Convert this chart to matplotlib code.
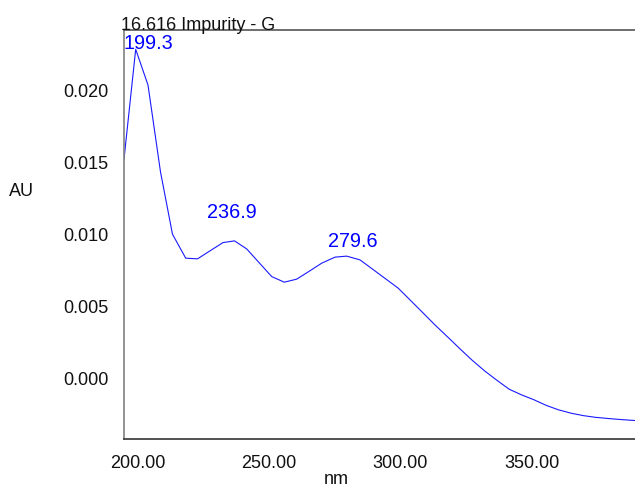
import matplotlib
matplotlib.use("Agg")
import matplotlib.pyplot as plt

# UV spectrum of the impurity peak (wavelength in nm, absorbance in AU)
wavelength = [194.85, 199.30, 203.98, 208.74, 213.30, 218.33, 222.82, 227.60,
              232.52, 236.90, 241.54, 246.30, 251.05, 255.84, 260.56, 265.25,
              270.08, 275.14, 279.60, 284.65, 289.33, 294.28, 299.22, 303.90,
              308.62, 313.30, 317.98, 322.70, 327.38, 332.06, 336.78, 341.46,
              346.14, 350.86, 355.54, 360.22, 364.94, 369.62, 374.30, 379.02,
              383.70, 388.38, 389.30]
absorbance = [0.01520, 0.02284, 0.02036, 0.01432, 0.00999, 0.00833, 0.00828, 0.00884,
              0.00941, 0.00953, 0.00897, 0.00801, 0.00705, 0.00666, 0.00687, 0.00741,
              0.00798, 0.00840, 0.00847, 0.00821, 0.00758, 0.00691, 0.00624, 0.00539,
              0.00453, 0.00367, 0.00286, 0.00203, 0.00123, 0.00050, -0.00016, -0.00078,
              -0.00117, -0.00151, -0.00190, -0.00221, -0.00244, -0.00261, -0.00273, -0.00281,
              -0.00288, -0.00294, -0.00295]

peak_wl = [199.3, 236.9, 279.6]
peak_labels = ["199.3", "236.9", "279.6"]

x_ticks = [200, 250, 300, 350]
y_ticks = [0.000, 0.005, 0.010, 0.015, 0.020]
title = "16.616 Impurity - G"

plt.rcParams["font.family"] = ["Liberation Sans", "DejaVu Sans"]

fig = plt.figure(figsize=(6.35, 4.88), dpi=100)
ax = fig.add_axes([124 / 635, 49.5 / 488, 511 / 635, 408.5 / 488])

ax.plot(wavelength, absorbance, color="#1a1aff", linewidth=0.8)

# peak apex labels, nudged in pixels like the acquisition software does
offsets = [((-12, 0), "left"), ((-3, 23), "center"), ((6, 9), "center")]
for wl, lab, (off, ha) in zip(peak_wl, peak_labels, offsets):
    y = absorbance[wavelength.index(wl)]
    ax.annotate(lab, (wl, y), xytext=off, textcoords="offset pixels",
                ha=ha, va="baseline", color="#0000ff", fontsize=14.3,
                annotation_clip=False)

ax.set_xlim(194.85, 389.3)
ax.set_ylim(-0.0042, 0.02418)
ax.set_xticks(x_ticks)
ax.set_xticklabels([f"{v:.2f}" for v in x_ticks])
ax.set_yticks(y_ticks)
ax.set_yticklabels([f"{v:.3f}" for v in y_ticks])
ax.tick_params(axis="both", length=0, labelsize=13, labelcolor="#111111")
ax.tick_params(axis="y", pad=11)
ax.tick_params(axis="x", pad=12)

ax.spines["right"].set_visible(False)
ax.spines["left"].set_color("#808080")
ax.spines["bottom"].set_color("#333333")
ax.spines["top"].set_color("#555555")
for s in ax.spines.values():
    s.set_linewidth(1.2)

fig.text(121 / 635, 1 - 30 / 488, title, ha="left", va="baseline", fontsize=13,
         color="#111111")
fig.text(21 / 635, 1 - 191 / 488, "AU", ha="center", va="center", fontsize=13,
         color="#111111")
fig.text(336 / 635, 1 - 484 / 488, "nm", ha="center", va="baseline", fontsize=13,
         color="#111111")

fig.savefig("out.png", dpi=100)
